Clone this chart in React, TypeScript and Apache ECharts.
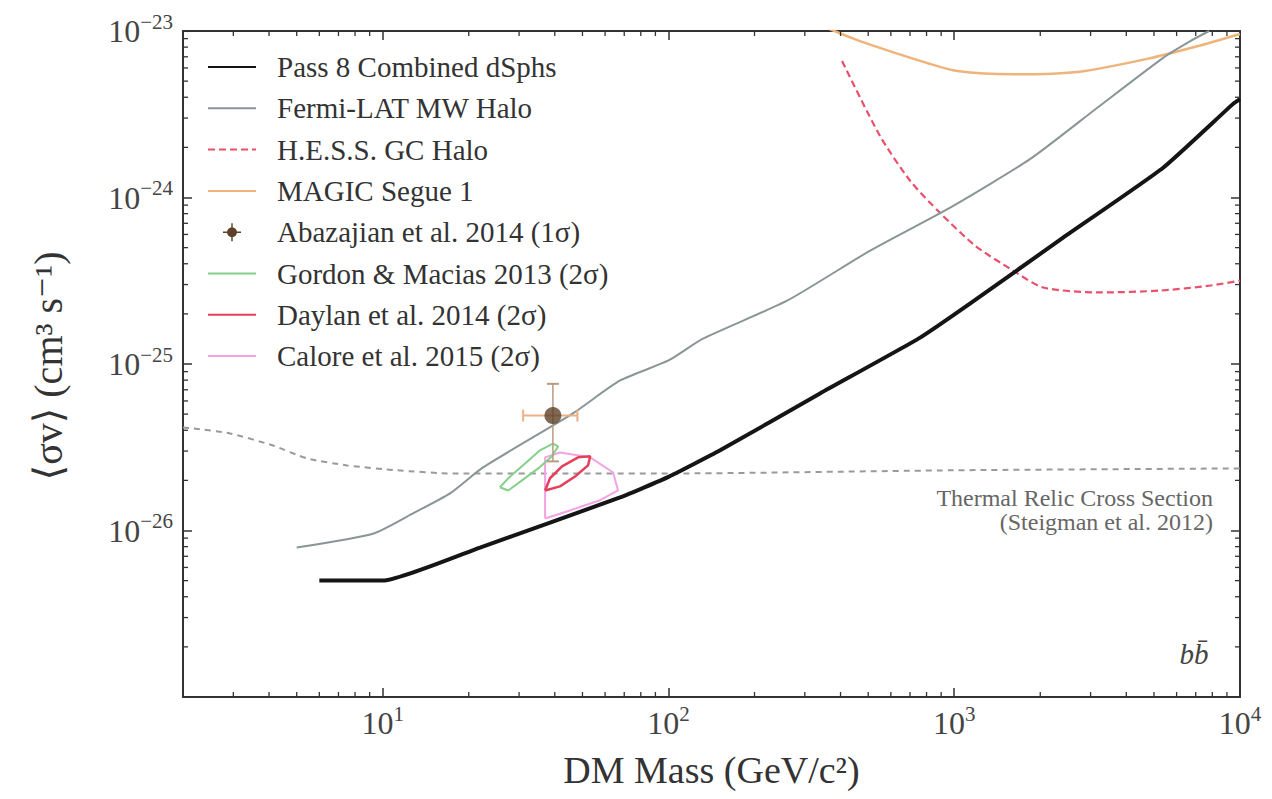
import React, { useEffect, useRef } from "react";
import * as echarts from "echarts";

const FONT = "'Liberation Serif', 'DejaVu Serif', serif";

// ---- data (GeV, cm^3 s^-1) ----
const PASS8_X = [6, 10, 21.9, 67.7, 100, 151.6, 339, 760, 1138, 2404, 5383, 9460, 10000];
const PASS8_Y = [5e-27, 5e-27, 7.9e-27, 1.58e-26, 2.1e-26, 3.03e-26, 6.65e-26, 1.44e-25, 2.31e-25, 5.74e-25, 1.51e-24, 3.65e-24, 3.9e-24];

const MW_X = [5.0, 9.3, 12.8, 17.2, 22.5, 46.3, 67.7, 100, 132, 260, 508, 968, 1841, 3159, 5383, 6700, 7800];
const MW_Y = [7.9e-27, 9.6e-27, 1.27e-26, 1.67e-26, 2.4e-26, 5.05e-26, 7.96e-26, 1.05e-25, 1.42e-25, 2.4e-25, 4.8e-25, 8.7e-25, 1.7e-24, 3.45e-24, 6.9e-24, 8.7e-24, 1.0e-23];

const HESS_X = [405, 550, 701, 891, 1183, 1607, 2047, 3241, 5256, 7870, 10000];
const HESS_Y = [6.6e-24, 2.34e-24, 1.26e-24, 8.1e-25, 5.14e-25, 3.64e-25, 2.88e-25, 2.69e-25, 2.76e-25, 2.96e-25, 3.17e-25];

const MAGIC_X = [355, 468, 824, 1023, 1607, 2750, 4730, 7080, 10000];
const MAGIC_Y = [1.05e-23, 8.7e-24, 6.34e-24, 5.75e-24, 5.5e-24, 5.7e-24, 6.8e-24, 8.1e-24, 9.6e-24];

const THERMAL_X = [2, 2.17, 2.92, 4.13, 5.43, 7.5, 11.2, 17.6, 40, 100, 1000, 10000];
const THERMAL_Y = [4.15e-26, 4.1e-26, 3.83e-26, 3.24e-26, 2.71e-26, 2.46e-26, 2.3e-26, 2.2e-26, 2.2e-26, 2.2e-26, 2.3e-26, 2.36e-26];

const ABAZ_POINT = [39.4, 4.9e-26];
const ABAZ_XERR = [31, 48];
const ABAZ_YERR = [2.6e-26, 7.6e-26];

const GORDON_X = [25.7, 27.9, 31.5, 35.5, 39.4, 41.1, 39.1, 35.0, 30.7, 27.5, 25.7];
const GORDON_Y = [1.82e-26, 2.11e-26, 2.53e-26, 3.03e-26, 3.33e-26, 3.2e-26, 2.79e-26, 2.36e-26, 2.0e-26, 1.74e-26, 1.82e-26];

const DAYLAN_X = [37.0, 38.5, 42.4, 48.3, 53.2, 52.3, 47.1, 41.7, 37.0];
const DAYLAN_Y = [1.74e-26, 2.06e-26, 2.43e-26, 2.75e-26, 2.79e-26, 2.46e-26, 2.11e-26, 1.84e-26, 1.74e-26];

const CALORE_X = [37.0, 37.0, 41.7, 53.2, 64.0, 66.6, 57.6, 45.2, 37.0];
const CALORE_Y = [1.18e-26, 2.75e-26, 2.94e-26, 2.75e-26, 2.23e-26, 1.74e-26, 1.52e-26, 1.32e-26, 1.18e-26];

const X_MIN = 2;
const X_MAX = 10000;
const Y_MIN = 1e-27;
const Y_MAX = 1e-23;

const X_MINOR = [3, 4, 5, 6, 7, 8, 9, 20, 30, 40, 50, 60, 70, 80, 90, 200, 300, 400, 500, 600, 700, 800, 900, 2000, 3000, 4000, 5000, 6000, 7000, 8000, 9000];
const Y_MINOR = [
  2e-27, 3e-27, 4e-27, 5e-27, 6e-27, 7e-27, 8e-27, 9e-27,
  2e-26, 3e-26, 4e-26, 5e-26, 6e-26, 7e-26, 8e-26, 9e-26,
  2e-25, 3e-25, 4e-25, 5e-25, 6e-25, 7e-25, 8e-25, 9e-25,
  2e-24, 3e-24, 4e-24, 5e-24, 6e-24, 7e-24, 8e-24, 9e-24,
];

const NAMES = [
  "Pass 8 Combined dSphs",
  "Fermi-LAT MW Halo",
  "H.E.S.S. GC Halo",
  "MAGIC Segue 1",
  "Abazajian et al. 2014 (1σ)",
  "Gordon & Macias 2013 (2σ)",
  "Daylan et al. 2014 (2σ)",
  "Calore et al. 2015 (2σ)",
];

const X_TITLE = "DM Mass (GeV/c²)";
const Y_TITLE = "⟨σv⟩ (cm³ s⁻¹)";

const zip = (xs: number[], ys: number[]) => xs.map((x, i) => [x, ys[i]]);

const powLabel = (v: number) => {
  const e = Math.round(Math.log10(v));
  if (Math.abs(v / Math.pow(10, e) - 1) > 1e-6) return "";
  const s = e < 0 ? "\u2212" + String(-e) : String(e);
  return `{b|10}{s|${s}}`;
};

const labelRich = {
  b: { fontFamily: FONT, fontSize: 32, color: "#444", lineHeight: 40 },
  s: { fontFamily: FONT, fontSize: 21, color: "#444", lineHeight: 40, verticalAlign: "top" },
};

const AXIS_COLOR = "#333";
const ABAZ_ICON =
  "path://M0,9.2H20V10.8H0Z M9.2,0H10.8V20H9.2Z M10,4.5A5.5,5.5 0 1 1 9.99,4.5Z";

export default function App() {
  const ref = useRef<HTMLDivElement>(null);
  useEffect(() => {
    if (!ref.current) return;
    const chart = echarts.init(ref.current, undefined, { renderer: "svg" });

    const lineBase = (name: string, xs: number[], ys: number[], color: string, width: number, extra: any = {}) => ({
      name,
      type: "line",
      data: zip(xs, ys),
      symbol: "none",
      smooth: extra.smooth ?? false,
      lineStyle: { color, width, ...(extra.lineStyle || {}) },
      itemStyle: { color },
      z: extra.z ?? 3,
      silent: true,
    });

    const mkX = (position: string, show: boolean) => ({
      type: "log",
      logBase: 10,
      min: X_MIN,
      max: X_MAX,
      position,
      axisLine: { show: true, onZero: false, lineStyle: { color: AXIS_COLOR, width: 2 } },
      axisTick: { show: true, inside: true, length: 9, lineStyle: { color: AXIS_COLOR, width: 1.5 } },
      minorTick: { show: false },
      splitLine: { show: false },
      axisLabel: show
        ? { formatter: powLabel, rich: labelRich, margin: 6, showMinLabel: false }
        : { show: false },
      ...(show
        ? {
            name: X_TITLE,
            nameLocation: "middle",
            nameGap: 54,
            nameTextStyle: { fontFamily: FONT, fontSize: 38, color: "#333" },
          }
        : {}),
    });
    const mkY = (position: string, show: boolean) => ({
      type: "log",
      logBase: 10,
      min: Y_MIN,
      max: Y_MAX,
      position,
      axisLine: { show: true, onZero: false, lineStyle: { color: AXIS_COLOR, width: 2 } },
      axisTick: { show: true, inside: true, length: 9, lineStyle: { color: AXIS_COLOR, width: 1.5 } },
      minorTick: { show: false },
      splitLine: { show: false },
      axisLabel: show ? { formatter: powLabel, rich: labelRich, margin: 10 } : { show: false },
    });

    const option: any = {
      animation: false,
      backgroundColor: "#ffffff",
      grid: { left: 183, right: 32, top: 31, bottom: 102, containLabel: false, outerBoundsMode: "none" },
      legend: {
        orient: "vertical",
        left: 202,
        top: 47,
        itemWidth: 48,
        itemHeight: 18,
        itemGap: 11.3,
        itemStyle: { opacity: 0 },
        textStyle: { fontFamily: FONT, fontSize: 29, color: "#333", lineHeight: 30, padding: [0, 0, 0, 16] },
        data: NAMES.map((n, i) =>
          i === 4 ? { name: n, icon: ABAZ_ICON, itemStyle: { opacity: 1, color: "#5e4128" } } : { name: n }
        ),
        selectedMode: false,
      },
      xAxis: [mkX("bottom", true), mkX("top", false)],
      yAxis: [mkY("left", true), mkY("right", false)],
      graphic: [
        {
          type: "text",
          x: 48,
          y: 366,
          rotation: Math.PI / 2,
          style: {
            text: Y_TITLE,
            x: 0,
            y: 0,
            textAlign: "center",
            textVerticalAlign: "middle",
            font: `40px ${FONT}`,
            fill: "#333",
          },
        },
        {
          type: "text",
          style: {
            text: "Thermal Relic Cross Section",
            x: 1213,
            y: 498,
            textAlign: "right",
            textVerticalAlign: "middle",
            font: `24px ${FONT}`,
            fill: "#666",
          },
        },
        {
          type: "text",
          style: {
            text: "(Steigman et al. 2012)",
            x: 1213,
            y: 522,
            textAlign: "right",
            textVerticalAlign: "middle",
            font: `24px ${FONT}`,
            fill: "#666",
          },
        },
        {
          type: "text",
          style: {
            text: "bb\u0304",
            x: 1194,
            y: 654,
            textAlign: "center",
            textVerticalAlign: "middle",
            font: `italic 29px ${FONT}`,
            fill: "#444",
          },
        },
      ],
      series: [
        lineBase("Thermal Relic", THERMAL_X, THERMAL_Y, "#9a9a9a", 2, { lineStyle: { type: [6, 5] }, z: 2, smooth: 0.2 }),
        lineBase(NAMES[7], CALORE_X, CALORE_Y, "#f3a2e4", 2),
        lineBase(NAMES[5], GORDON_X, GORDON_Y, "#86d08c", 2),
        lineBase(NAMES[6], DAYLAN_X, DAYLAN_Y, "#e4405c", 2.5),
        {
          name: "abaz-xerr",
          type: "line",
          data: [[ABAZ_XERR[0], ABAZ_POINT[1]], [ABAZ_XERR[1], ABAZ_POINT[1]]],
          symbol: "rect",
          symbolSize: [2, 12],
          showSymbol: true,
          lineStyle: { color: "#eab088", width: 2 },
          itemStyle: { color: "#eab088" },
          z: 4,
          silent: true,
        },
        {
          name: "abaz-yerr",
          type: "line",
          data: [[ABAZ_POINT[0], ABAZ_YERR[0]], [ABAZ_POINT[0], ABAZ_YERR[1]]],
          symbol: "rect",
          symbolSize: [12, 2],
          showSymbol: true,
          lineStyle: { color: "#b89a80", width: 1.5 },
          itemStyle: { color: "#b89a80" },
          z: 4,
          silent: true,
        },
        {
          name: NAMES[4],
          type: "scatter",
          data: [ABAZ_POINT],
          symbol: "circle",
          symbolSize: 17,
          itemStyle: { color: "#5e4128" },
          z: 5,
          silent: true,
        },
        lineBase(NAMES[3], MAGIC_X, MAGIC_Y, "#eeb47c", 2.5, { smooth: 0.25 }),
        lineBase(NAMES[2], HESS_X, HESS_Y, "#e8506c", 2.2, { lineStyle: { type: [7, 4] }, smooth: 0.25 }),
        lineBase(NAMES[1], MW_X, MW_Y, "#8a9696", 2, { smooth: 0.2 }),
        lineBase(NAMES[0], PASS8_X, PASS8_Y, "#151515", 4, { z: 6, smooth: 0.15 }),
        {
          name: "minor-x",
          type: "custom",
          silent: true,
          data: X_MINOR.map((v) => [v, Y_MIN]),
          renderItem: (params: any, api: any) => {
            const v = api.value(0);
            const b = api.coord([v, Y_MIN]);
            const t = api.coord([v, Y_MAX]);
            const st = { stroke: AXIS_COLOR, lineWidth: 1.3 };
            return {
              type: "group",
              children: [
                { type: "line", shape: { x1: b[0], y1: b[1], x2: b[0], y2: b[1] - 5 }, style: st },
                { type: "line", shape: { x1: t[0], y1: t[1], x2: t[0], y2: t[1] + 5 }, style: st },
              ],
            };
          },
          z: 10,
        },
        {
          name: "minor-y",
          type: "custom",
          silent: true,
          data: Y_MINOR.map((v) => [X_MIN, v]),
          renderItem: (params: any, api: any) => {
            const v = api.value(1);
            const l = api.coord([X_MIN, v]);
            const r = api.coord([X_MAX, v]);
            const st = { stroke: AXIS_COLOR, lineWidth: 1.3 };
            return {
              type: "group",
              children: [
                { type: "line", shape: { x1: l[0], y1: l[1], x2: l[0] + 5, y2: l[1] }, style: st },
                { type: "line", shape: { x1: r[0], y1: r[1], x2: r[0] - 5, y2: r[1] }, style: st },
              ],
            };
          },
          z: 10,
        },
      ],
    };

    chart.setOption(option);
    return () => chart.dispose();
  }, []);

  return <div ref={ref} style={{ width: 1272, height: 799, position: "absolute", left: 0, top: 0, background: "#fff" }} />;
}
